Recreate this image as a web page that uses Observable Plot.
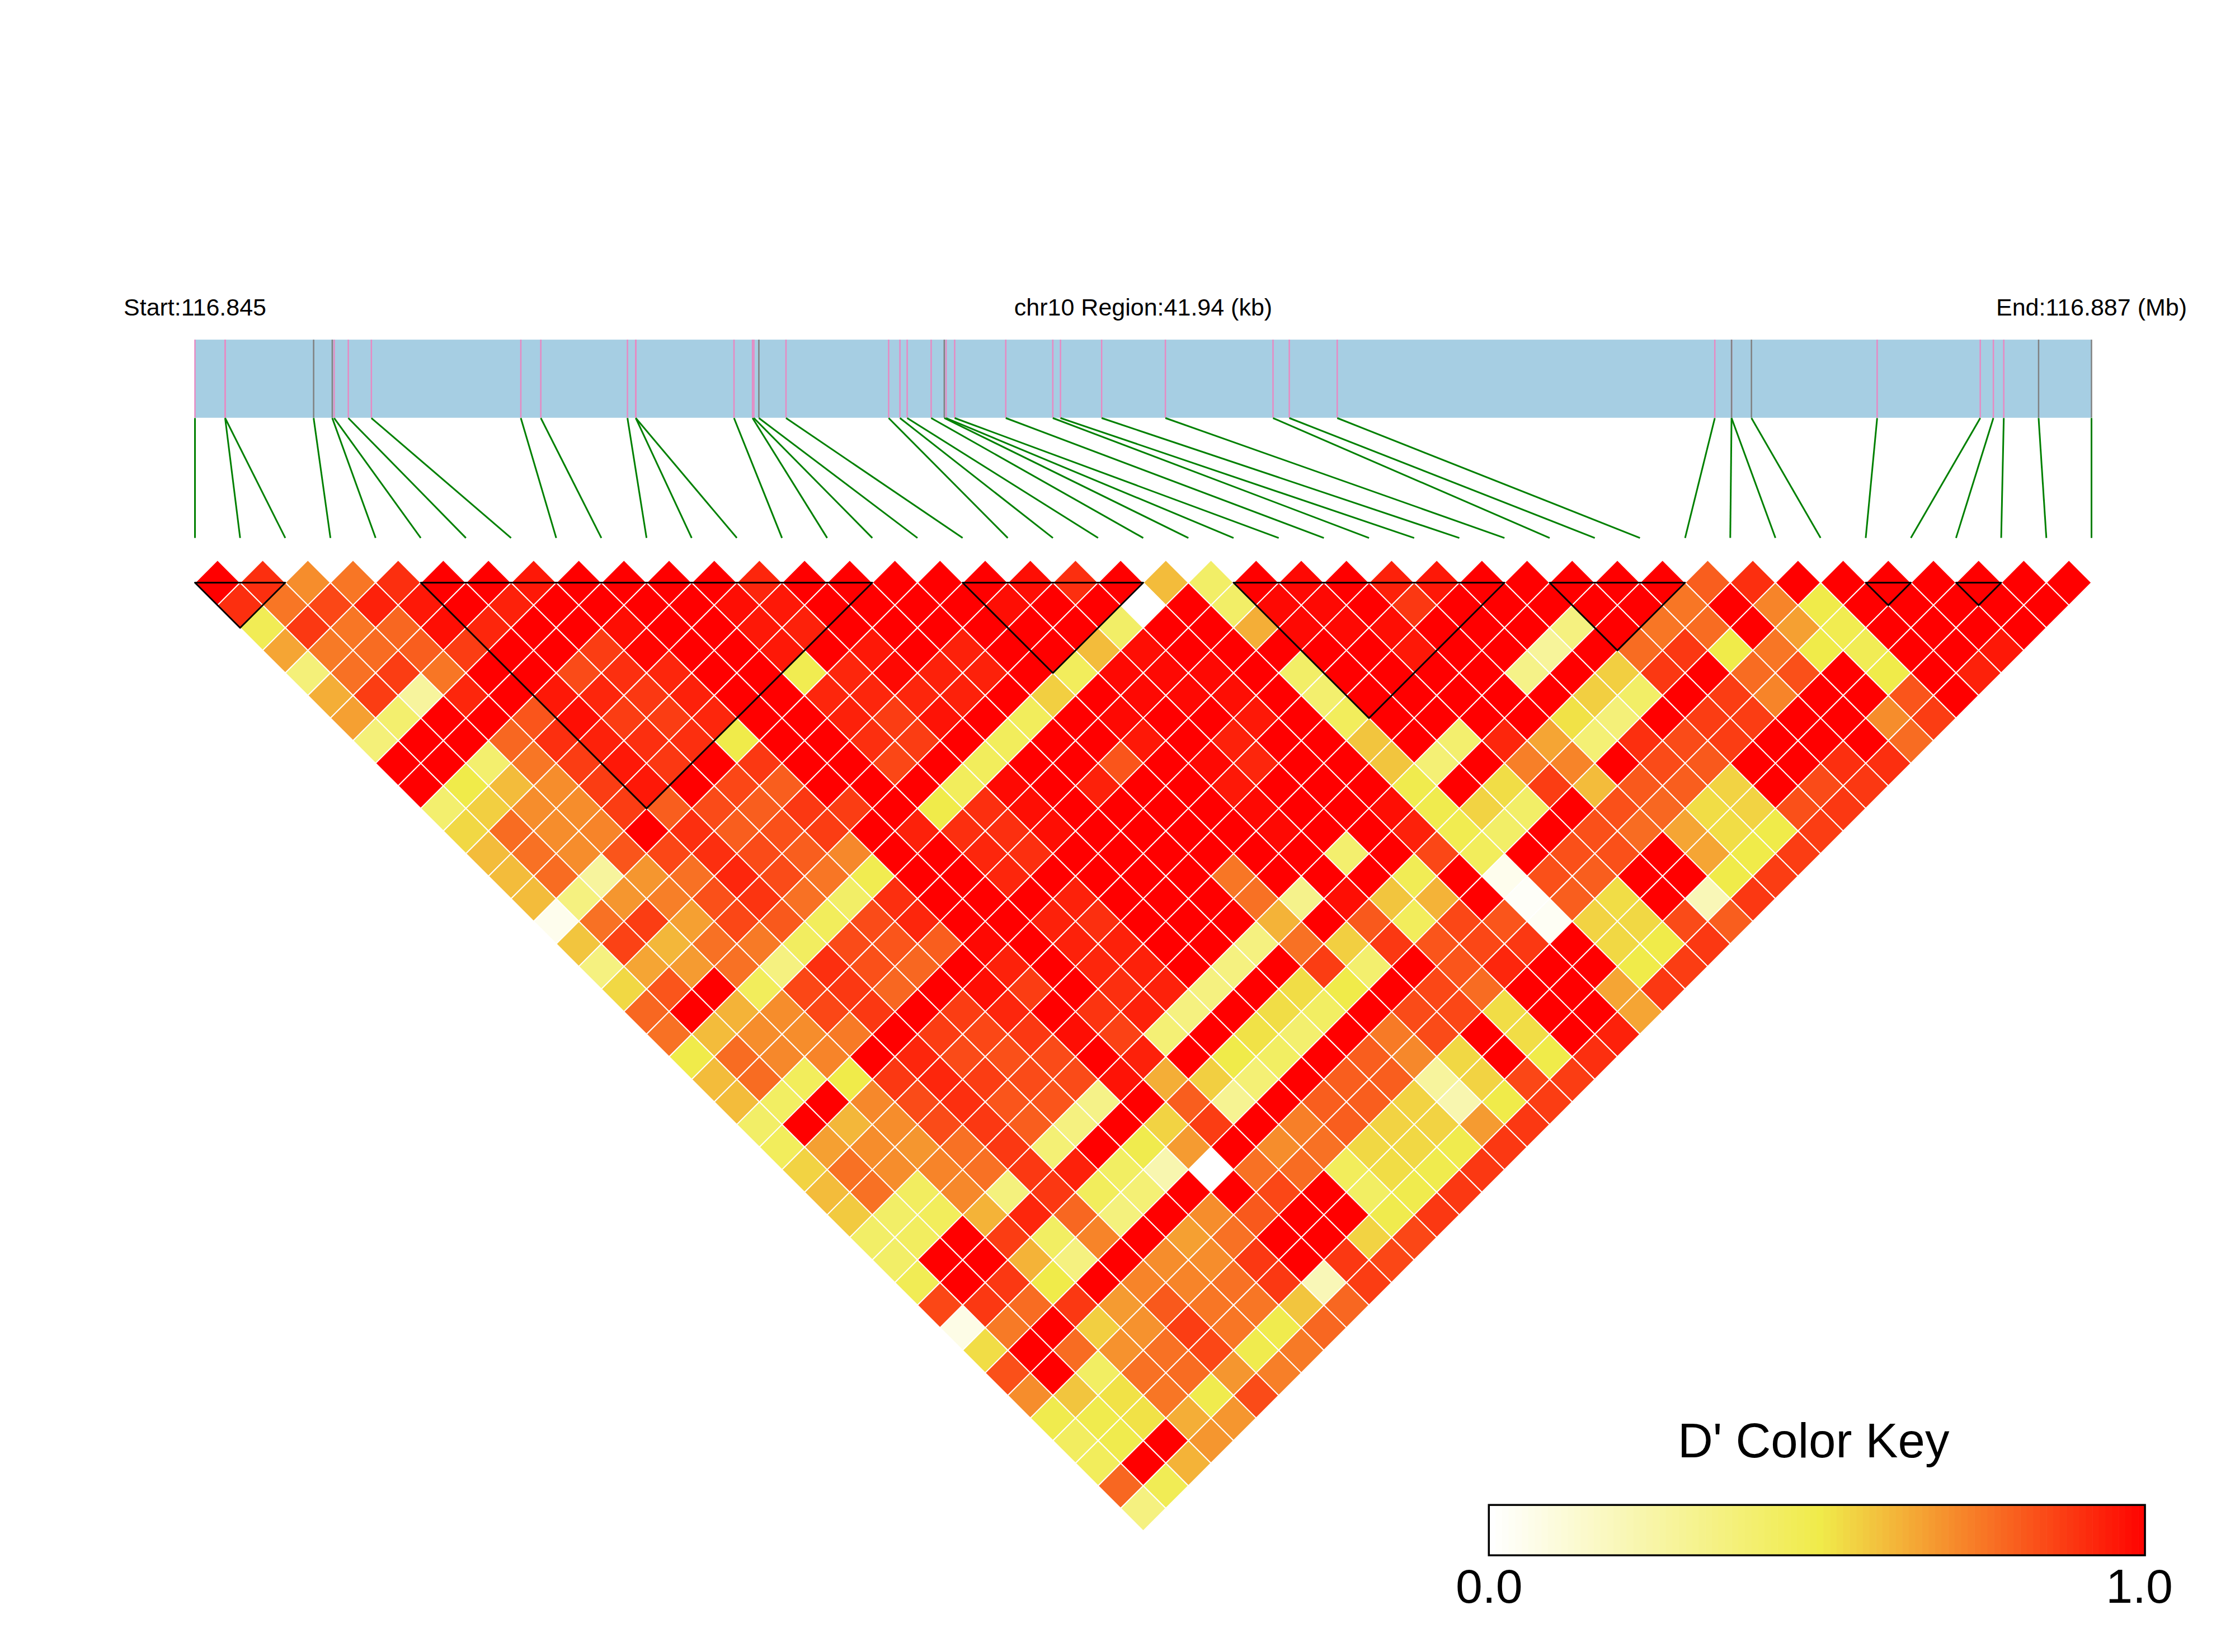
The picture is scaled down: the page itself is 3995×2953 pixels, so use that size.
<!DOCTYPE html>
<html>
<head>
<meta charset="utf-8">
<style>html,body{margin:0;padding:0;background:#fff}svg{display:block}</style>
<script src="https://cdn.jsdelivr.net/npm/d3@7"></script>
<script src="https://cdn.jsdelivr.net/npm/@observablehq/plot@0.6"></script>
</head>
<body>
<div id="chart"></div>
<script>
// D' between SNP i and SNP i+k+1, one array per distance k
const r00=[1,.9,.7,.75,.9,1,1,.95,1,1,1,1,.92,1,1,1,1,1,.97,.9,1,.6,.42,1,.98,1,.93,.95,1,1,1,1,1,.8,.9,1,1,1,1,1,1,1];
const r01=[.9,.75,.85,.93,.95,1,.93,1,1,1,1,.97,.95,1,1,1,1,.97,1,1,0,1,.42,.98,.98,1,.88,1,1,1,1,1,.75,1,.72,.5,1,1,1,1,1];
const r02=[.47,.88,.75,.78,.97,.92,1,1,.97,1,1,.95,.93,1,1,1,1,1,1,.42,1,1,.63,.98,.98,.97,1,1,1,.35,1,.75,.77,1,.66,.48,1,1,1,1];
const r03=[.65,.74,.77,.8,.87,1,1,.87,.99,1,1,.95,1,.95,1,.93,1,1,.6,.97,1,1,1,1,1,.95,1,1,.28,1,.77,.88,.5,.75,.5,.47,1,1,.95];
const r04=[.37,.76,.87,.75,1,1,.84,.9,.92,1,1,.48,.92,.98,.93,.93,1,.45,.98,.98,.98,1,.42,1,1,1,1,.33,1,.56,.88,1,.77,.83,1,.5,1,.93];
const r05=[.63,.87,.27,.92,1,.95,.92,.88,.93,1,1,.92,.92,.92,.93,1,.56,1,.98,.98,.97,1,.4,1,1,1,1,1,.56,.42,1,.87,.72,1,1,.82,1];
const r06=[.66,.4,1,1,.82,.97,.87,.87,.92,1,1,.93,.87,.96,1,.45,1,.98,1,1,.95,1,.45,1,1,1,1,.52,.37,1,.87,.87,1,1,.7,.87];
const r07=[.37,1,1,.78,.9,.93,.9,.9,.5,1,1,.9,.87,1,.45,1,1,.95,1,.93,1,1,.58,1,.4,.92,.65,.38,.9,.84,.87,1,1,1,.77];
const r08=[1,1,.4,.75,.87,.95,.88,1,.88,1,1,.85,1,.45,1,1,.82,1,.98,.92,1,1,.58,.38,1,.73,.72,1,.84,.81,1,1,.9,.9];
const r09=[1,.5,.6,.7,.87,.95,1,.85,.8,1,1,1,.45,.98,1,.93,1,1,.95,1,1,1,.49,1,.53,.87,.6,.81,.8,.55,1,.84,.88];
const r10=[.4,.56,.7,.7,.87,.8,.84,.8,.88,.87,1,.5,.9,.97,1,1,1,1,.98,1,1,.97,.49,.55,.42,1,.83,.78,.53,.55,.83,.88];
const r11=[.54,.77,.7,.72,1,.9,.8,.83,.87,1,.93,.9,.9,.97,1,1,1,1,.98,1,1,.93,.48,.42,1,.83,.77,.65,.53,.5,.87];
const r12=[.6,.76,.7,.82,.85,.9,.84,.8,.71,1,1,.92,.9,1,1,1,1,1,1,.4,1,.85,.45,1,.83,.83,1,.65,.5,.87];
const r13=[.6,.77,.27,.68,.76,.92,.84,.75,.48,1,1,.92,1,1,1,1,.75,1,1,1,.47,1,.05,.83,.8,1,1,.5,.87];
const r14=[.6,.35,.68,.73,.83,.89,.76,.42,.9,1,1,1,.93,1,1,1,.76,.32,.97,.58,.62,1,.02,.8,.53,1,.2,.88];
const r15=[.05,.76,.87,.66,.85,.81,.45,.84,.92,1,1,.93,.9,1,1,1,.62,1,.81,.45,.85,.82,.03,.55,.54,.84,.8];
const r16=[.58,.86,.61,.76,.74,.44,.84,.82,.8,.98,1,.93,.93,1,1,.35,.76,.56,.88,.82,.85,.88,1,.54,.5,.88];
const r17=[.35,.65,.67,.76,.35,.9,.83,.78,1,.93,1,.92,.93,1,.35,1,.87,.4,1,.82,.92,1,1,.5,.87];
const r18=[.54,.82,1,.45,.85,.88,.78,1,.97,.87,1,.9,.93,.35,1,.53,.5,1,.85,.77,1,1,.65,.88];
const r19=[.78,1,.62,.7,.85,.88,1,.87,.92,1,.89,.93,.35,1,.53,.43,1,.84,.85,.53,1,1,.65];
const r20=[.76,.6,.7,.7,.74,1,.87,.85,.88,.97,.86,.38,1,.52,.4,1,.74,.84,1,.53,1,.93];
const r21=[.5,.77,.71,.72,1,.92,.84,.83,.84,1,.93,1,.5,.43,1,.8,.71,.54,1,.5,.9];
const r22=[.6,.77,.45,.5,.88,.92,.87,.84,.84,.96,.63,.56,.38,1,.8,.8,.27,.55,.85,.87];
const r23=[.6,.43,1,.71,.84,.9,.82,.82,.33,1,.8,.3,1,.8,.8,.55,.22,.5,.87];
const r24=[.42,1,.61,.7,.84,.88,.8,.35,1,.55,.87,1,.73,.8,.55,.55,.67,.88];
const r25=[.45,.66,.7,.68,.76,.88,.38,1,.49,.67,1,.7,.76,.54,.54,.49,.88];
const r26=[.55,.76,.7,.72,.76,.88,.93,.43,.22,0,.76,.77,.45,.53,.49,.88];
const r27=[.6,.76,.44,.71,.36,.88,.45,.38,1,1,.85,1,.43,.49,.88];
const r28=[.57,.42,.45,.62,.92,.78,.36,1,.7,.81,1,1,.49,.88];
const r29=[.42,.44,1,.87,.43,.72,1,.66,.76,1,1,.55,.85];
const r30=[.42,1,1,.62,.35,1,.7,.7,.88,1,.88,.85];
const r31=[.47,1,.88,.5,1,.72,.72,.76,.88,.2,.87];
const r32=[.85,.88,.77,.88,.67,.81,.75,.75,.58,.78];
const r33=[.07,.74,1,.56,.69,.87,.75,.49,.78];
const r34=[.53,1,.77,.69,.76,.85,.49,.74];
const r35=[.83,1,.43,.76,.77,.68,.73];
const r36=[.7,.58,.52,.75,.49,.84];
const r37=[.49,.49,.52,.63,.68];
const r38=[.44,.49,1,.68];
const r39=[.45,1,.62];
const r40=[.78,.47];
const r41=[.35];
const ldRows=[r00,r01,r02,r03,r04,r05,r06,r07,r08,r09,r10,r11,r12,r13,r14,r15,r16,r17,r18,r19,r20,r21,r22,r23,r24,r25,r26,r27,r28,r29,r30,r31,r32,r33,r34,r35,r36,r37,r38,r39,r40,r41];

// SNP positions (kb from region start) and their band colour
const snpKb=[0,.667,.667,2.624,3.036,3.078,3.391,3.901,7.206,7.648,9.564,9.748,9.748,11.92,12.33,12.36,12.47,13.07,15.34,15.59,15.75,16.28,16.57,16.61,16.8,17.93,18.97,19.14,20.05,21.46,23.84,24.2,25.26,33.61,33.98,33.98,34.42,37.2,39.48,39.77,40,40.77,41.94];
const snpGrey=[3,4,16,22,35,36,41,42];
const regionKb=41.94;

// LD blocks as [first SNP, last SNP]
const blocks=[[0,2],[5,15],[17,21],[23,29],[30,33],[37,38],[39,40]];

const keyTicks=["0.0","1.0"];
const labels=["Start:116.845","chr10 Region:41.94 (kb)","End:116.887 (Mb)"];

// layout, in x = SNP index units and y = row units
const bandTop=-10.75,bandBottom=-7.29,fanBottom=-1.98,labelY=-11.82;
const keyLeft=28.66,keyRight=43.19,keyTop=40.86,keyBottom=43.09,keyTitleY=38.75,keyTickY=45.19;

const toX=kb=>kb*42/regionKb;
const snps=snpKb.map((kb,i)=>({i,x:toX(kb),grey:snpGrey.includes(i)}));
const cellPts=ldRows.flatMap((row,k)=>row.flatMap((v,i)=>{
  const c=i+.5+k/2,id=k+"-"+i;
  return [[c,k-1],[c+.5,k],[c,k+1],[c-.5,k]].map(([x,y])=>({id,v,x,y}));
}));
const blockPts=blocks.flatMap(([a,b],n)=>[[a,0],[b,0],[(a+b)/2,b-a]].map(([x,y])=>({n,x,y})));
const keySteps=d3.range(100).map(n=>n/100);
const keyX=v=>keyLeft+v*(keyRight-keyLeft);

const chart=Plot.plot({
  width:3995,height:2953,margin:0,
  style:{background:"#fff",overflow:"visible"},
  x:{axis:null,domain:[0,42],range:[348,3738]},
  y:{axis:null,domain:[0,41],range:[1041,2695.8]},
  color:{type:"linear",domain:[0,.5,1],range:["#ffffff","#f0eb4a","#ff0000"]},
  marks:[
    Plot.rect([0],{x1:0,x2:42,y1:bandTop,y2:bandBottom,fill:"#a6cee3"}),
    Plot.ruleX(snps.filter(d=>!d.grey),{x:"x",y1:bandTop,y2:bandBottom,stroke:"#e78ac3",strokeWidth:2.5}),
    Plot.ruleX(snps.filter(d=>d.grey),{x:"x",y1:bandTop,y2:bandBottom,stroke:"#808080",strokeWidth:2.5}),
    Plot.link(snps,{x1:"x",y1:bandBottom,x2:"i",y2:fanBottom,stroke:"#008000",strokeWidth:3}),
    Plot.line(cellPts,{x:"x",y:"y",z:"id",fill:"v",stroke:"#fff",strokeWidth:2,curve:"linear-closed"}),
    Plot.line(blockPts,{x:"x",y:"y",z:"n",stroke:"#000",strokeWidth:3,curve:"linear-closed"}),
    Plot.text(labels,{x:(d,i)=>[0,21,42][i],y:labelY,text:d=>d,fontFamily:"Liberation Sans",fontSize:43,fill:"#000",lineAnchor:"bottom",textAnchor:"middle"}),
    Plot.rect(keySteps,{x1:d=>keyX(d),x2:d=>keyX(d+.0105),y1:keyTop,y2:keyBottom,fill:d=>d}),
    Plot.rect([0],{x1:keyLeft,x2:keyRight,y1:keyTop,y2:keyBottom,fill:"none",stroke:"#000",strokeWidth:3.5}),
    Plot.text(["D' Color Key"],{x:(keyLeft+keyRight)/2-.08,y:keyTitleY,text:d=>d,fontFamily:"Liberation Sans",fontSize:87,fill:"#000",lineAnchor:"bottom",textAnchor:"middle"}),
    Plot.text(keyTicks,{x:(d,i)=>[keyLeft,keyRight-.13][i],y:keyTickY,text:d=>d,fontFamily:"Liberation Sans",fontSize:86,fill:"#000",lineAnchor:"bottom",textAnchor:"middle"})
  ]
});
document.getElementById("chart").append(chart);
</script>
</body>
</html>
